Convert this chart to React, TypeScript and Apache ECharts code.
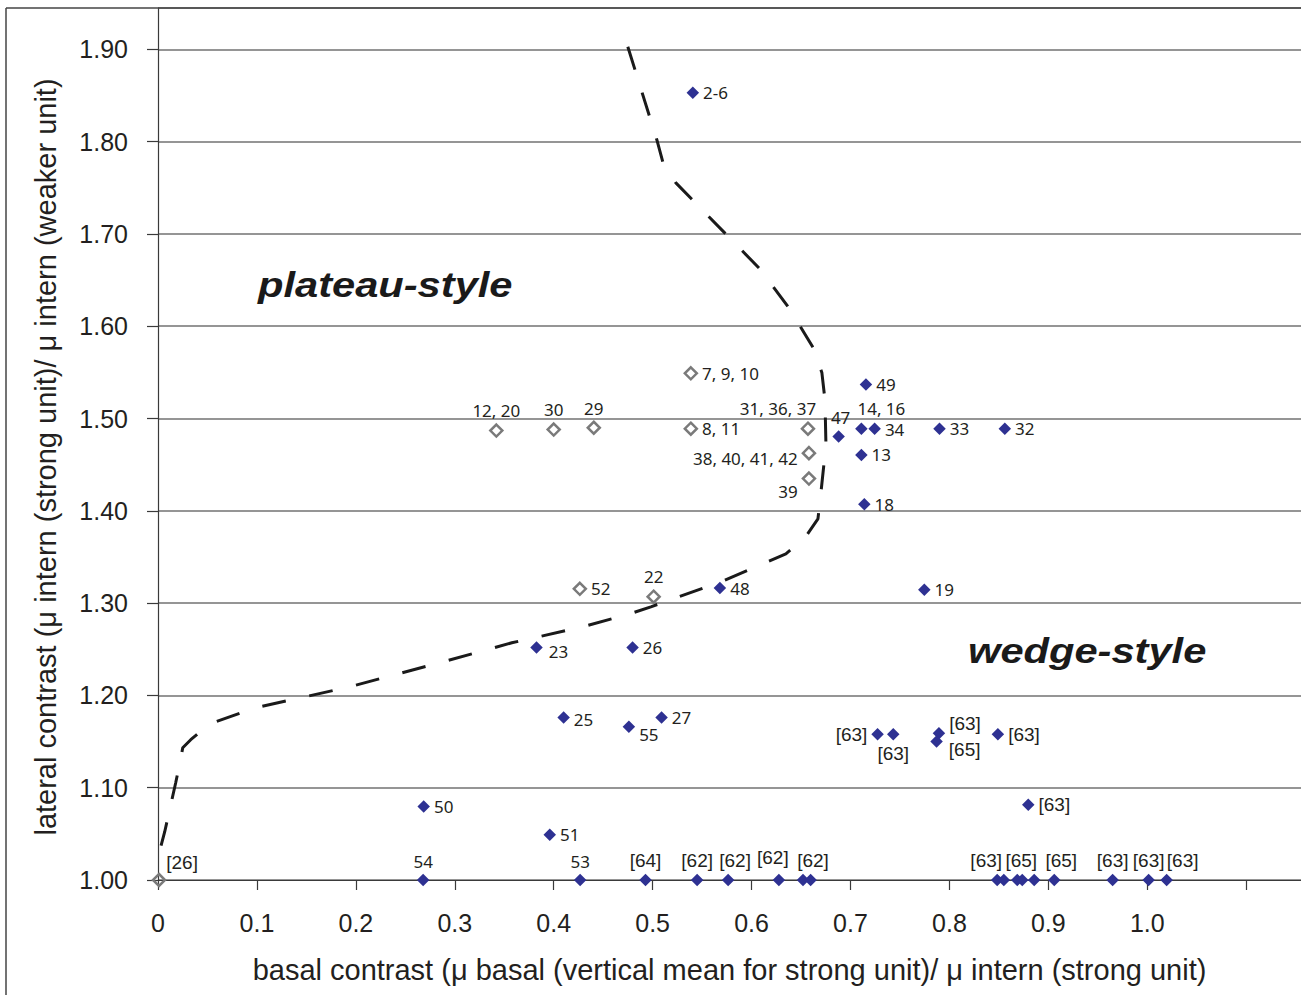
import React, { useEffect, useRef } from 'react';
import * as echarts from 'echarts';

// ---------- tick labels ----------
const xTickLabels = ['0', '0.1', '0.2', '0.3', '0.4', '0.5', '0.6', '0.7', '0.8', '0.9', '1.0'];
const yTickLabels = ['1.00', '1.10', '1.20', '1.30', '1.40', '1.50', '1.60', '1.70', '1.80', '1.90'];

// ---------- boundary curve (dashed) ----------
const boundary: [number, number][] = [
  [0.4749, 1.9028], [0.5043, 1.8018], [0.5103, 1.778], [0.5235, 1.7553],
  [0.6084, 1.6621], [0.6378, 1.6199], [0.663, 1.5755], [0.6711, 1.5495],
  [0.6742, 1.5203], [0.6752, 1.4715], [0.6701, 1.4195], [0.6671, 1.3913],
  [0.6539, 1.3708], [0.6347, 1.3534], [0.6135, 1.3437], [0.569, 1.3231],
  [0.4982, 1.296], [0.477, 1.2884], [0.4294, 1.2743], [0.3577, 1.257],
  [0.2879, 1.2364], [0.1938, 1.2093], [0.0988, 1.1866], [0.0523, 1.1693],
  [0.0331, 1.152], [0.025, 1.1433], [0.023, 1.1314], [0.0179, 1.1054],
  [0.0068, 1.0523], [0.0007, 1.0274],
];

// ---------- plateau-style (open diamonds) ----------
const openPoints: [number, number][] = [
  [0.001, 1.0], [0.342, 1.487], [0.4, 1.488], [0.4405, 1.49], [0.5386, 1.549],
  [0.5386, 1.489], [0.657, 1.489], [0.658, 1.4625], [0.658, 1.435],
  [0.4264, 1.3155], [0.501, 1.307],
];
const openLabels = ['[26]', '12, 20', '30', '29', '7, 9, 10', '8, 11', '31, 36, 37', '38, 40, 41, 42', '39', '52', '22'];

// ---------- wedge-style (filled diamonds) ----------
const filledPoints: [number, number][] = [
  [0.5406, 1.853], [0.7156, 1.537], [0.688, 1.4805], [0.711, 1.4888], [0.7244, 1.4888],
  [0.711, 1.4606], [0.714, 1.4072], [0.79, 1.4888], [0.856, 1.4888], [0.568, 1.3163],
  [0.7746, 1.3144], [0.3826, 1.2519], [0.4797, 1.2519], [0.41, 1.176], [0.476, 1.166],
  [0.509, 1.176], [0.7274, 1.158], [0.7432, 1.158], [0.7894, 1.159], [0.787, 1.15],
  [0.849, 1.158], [0.8797, 1.0816], [0.2686, 1.0796], [0.396, 1.049],
  [0.268, 1.0], [0.4267, 1.0], [0.4928, 1.0], [0.545, 1.0], [0.5763, 1.0],
  [0.6276, 1.0], [0.652, 1.0], [0.6597, 1.0], [0.8483, 1.0], [0.855, 1.0],
  [0.8686, 1.0], [0.8736, 1.0], [0.8857, 1.0], [0.906, 1.0], [0.965, 1.0],
  [1.0014, 1.0], [1.0196, 1.0],
];
const filledLabels = [
  '2-6', '49', '47', '14, 16', '34',
  '13', '18', '33', '32', '48',
  '19', '23', '26', '25', '55',
  '27', '[63]', '[63]', '[63]', '[65]',
  '[63]', '[63]', '50', '51',
  '54', '53', '[64]', '[62]', '[62]',
  '[62]', '[62]', '', '[63]', '',
  '[65]', '', '', '[65]', '[63]',
  '[63]', '[63]',
];

// ---------- label placement (style only) ----------
type Place = [string, number, number];
const openPlace: Place[] = [
  ['right', -4, -18], ['top', 0, 0], ['top', 0, 0], ['top', 0, 0], ['right', 0, 0],
  ['right', 0, 0], ['top', -30, 0], ['left', 0, 5], ['left', 0, 13],
  ['right', 0, 0], ['top', 0, 0],
];
const filledPlace: Place[] = [
  ['right', 0, 0], ['right', 0, 0], ['top', 2, 0], ['top', 20, -2], ['right', 0, 1],
  ['right', 0, 0], ['right', 0, 0], ['right', 0, 0], ['right', 0, 0], ['right', 0, 0],
  ['right', 0, 0], ['right', 2, 4], ['right', 0, 0], ['right', 0, 2], ['right', 0, 8],
  ['right', 0, 0], ['left', 0, 0], ['bottom', 0, 0], ['right', 0, -10], ['right', 2, 8],
  ['right', 0, 0], ['right', 0, 0], ['right', 0, 0], ['right', 0, 0],
  ['top', 0, 0], ['top', 0, 0], ['top', 0, 0], ['top', 0, 0], ['top', 7, 0],
  ['top', -6, -3], ['top', 10, 0], ['top', 0, 0], ['top', -11, 0], ['top', 0, 0],
  ['top', 4, 0], ['top', 0, 0], ['top', 0, 0], ['top', 7, 0], ['top', 0, 0],
  ['top', 0, 0], ['top', 16, 0],
];

const TEXT = '#231f20';

function makeItems(pts: [number, number][], labels: string[], places: Place[]) {
  return pts.map((p, i) => {
    const txt = labels[i];
    const [pos, dx, dy] = places[i];
    const bracket = txt.startsWith('[');
    return {
      value: p,
      label: {
        show: txt !== '',
        formatter: txt,
        position: pos,
        offset: [dx, dy],
        distance: 4,
        fontFamily: bracket ? '"Liberation Sans", Arial, sans-serif' : '"Noto Sans", sans-serif',
        fontSize: bracket ? 19 : 17,
        color: TEXT,
      },
    };
  });
}

export default function App() {
  const ref = useRef<HTMLDivElement>(null);

  useEffect(() => {
    if (!ref.current) return;
    const chart = echarts.init(ref.current, undefined, { renderer: 'svg' });
    const axisFont = '"Liberation Sans", Arial, sans-serif';
    chart.setOption({
      animation: false,
      backgroundColor: '#ffffff',
      grid: { left: 158, top: 8, right: 0, bottom: 115, outerBoundsMode: 'none', containLabel: false },
      xAxis: {
        type: 'value',
        min: 0,
        max: 1.1554,
        interval: 0.1,
        name: 'basal contrast (μ basal (vertical mean for strong unit)/ μ intern (strong unit)',
        nameLocation: 'middle',
        nameGap: 75,
        nameTextStyle: { fontSize: 29, fontFamily: axisFont, color: TEXT },
        axisLine: { show: true, onZero: false, lineStyle: { color: '#3a3a3a', width: 1.2 } },
        axisTick: { show: true, length: 10, lineStyle: { color: '#3a3a3a', width: 1.2 } },
        axisLabel: {
          fontSize: 25,
          fontFamily: axisFont,
          color: TEXT,
          margin: 30,
          showMaxLabel: false,
          formatter: (v: number) => {
            const i = Math.round(v * 10);
            if (Math.abs(v * 10 - i) > 0.01) return '';
            return xTickLabels[i] ?? '';
          },
        },
        splitLine: { show: false },
      },
      yAxis: {
        type: 'value',
        min: 1.0,
        max: 1.9448,
        interval: 0.1,
        name: 'lateral contrast (μ intern (strong unit)/ μ intern (weaker unit)',
        nameLocation: 'middle',
        nameGap: 98,
        nameRotate: 90,
        nameTextStyle: { fontSize: 29, fontFamily: axisFont, color: TEXT, padding: [0, 26, 0, 0] },
        axisLine: { show: true, lineStyle: { color: '#3a3a3a', width: 1.2 } },
        axisTick: { show: true, length: 11, lineStyle: { color: '#3a3a3a', width: 1.2 } },
        axisLabel: {
          fontSize: 25,
          fontFamily: axisFont,
          color: TEXT,
          margin: 30,
          showMaxLabel: false,
          formatter: (v: number) => {
            const i = Math.round((v - 1) * 10);
            if (Math.abs((v - 1) * 10 - i) > 0.01) return '';
            return yTickLabels[i] ?? '';
          },
        },
        splitLine: { show: true, lineStyle: { color: '#727272', width: 1.5 } },
      },
      graphic: [
        { type: 'line', shape: { x1: 6, y1: 8, x2: 1301, y2: 8 }, style: { stroke: '#444', lineWidth: 1.5 }, z: 100 },
        { type: 'line', shape: { x1: 6, y1: 8, x2: 6, y2: 995 }, style: { stroke: '#444', lineWidth: 1.5 }, z: 100 },
        {
          type: 'text', x: 258, y: 285, scaleX: 1.19, z: 100,
          style: { text: 'plateau-style', fontSize: 35, fontWeight: 'bold', fontStyle: 'italic', fontFamily: axisFont, fill: '#1a1a1a', verticalAlign: 'middle', align: 'left' },
        },
        {
          type: 'text', x: 968, y: 651, scaleX: 1.19, z: 100,
          style: { text: 'wedge-style', fontSize: 35, fontWeight: 'bold', fontStyle: 'italic', fontFamily: axisFont, fill: '#1a1a1a', verticalAlign: 'middle', align: 'left' },
        },
      ],
      series: [
        {
          type: 'line',
          data: boundary,
          symbol: 'none',
          silent: true,
          z: 2,
          lineStyle: { color: '#1a1a1a', width: 3, type: [24, 24] },
        },
        {
          type: 'scatter',
          symbol: 'diamond',
          symbolSize: 12,
          z: 3,
          itemStyle: { color: 'rgba(255,255,255,0)', borderColor: '#7a7a7a', borderWidth: 2.5, opacity: 1 },
          data: makeItems(openPoints, openLabels, openPlace),
        },
        {
          type: 'scatter',
          symbol: 'diamond',
          symbolSize: 12.5,
          z: 4,
          itemStyle: { color: '#2e3192', opacity: 1 },
          data: makeItems(filledPoints, filledLabels, filledPlace),
        },
      ],
    });
    return () => chart.dispose();
  }, []);

  return (
    <div
      ref={ref}
      style={{ position: 'absolute', left: 0, top: 0, width: 1301, height: 995, background: '#fff' }}
    />
  );
}
